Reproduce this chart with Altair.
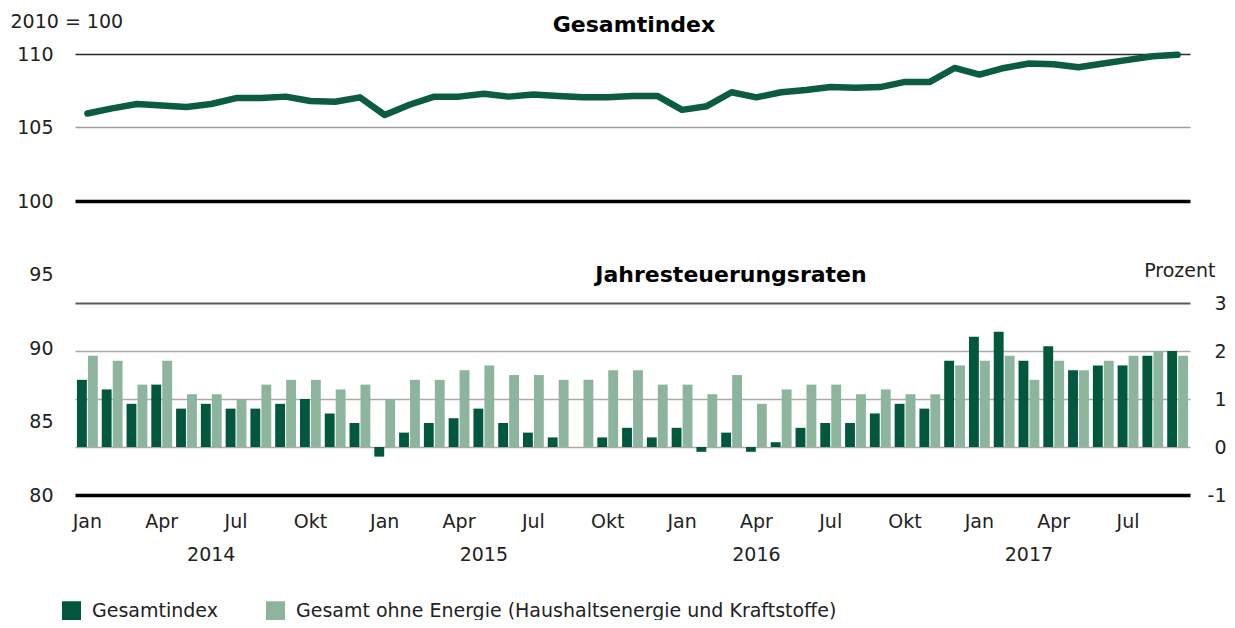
import altair as alt
import pandas as pd

# ---------------- data ----------------
month_names = ["Jan", "Feb", "Mär", "Apr", "Mai", "Jun", "Jul", "Aug", "Sep", "Okt", "Nov", "Dez"]
years = ["2014", "2015", "2016", "2017"]
months = [f"{m} {y}" for y in years for m in month_names][:45]

tick_month_names = ["Jan", "Apr", "Jul", "Okt"]

# Gesamtindex level (2010 = 100)
index_level = [
    105.95, 106.3, 106.6, 106.5, 106.4, 106.6, 107.0, 107.0, 107.1, 106.8, 106.75, 107.05,
    105.85, 106.55, 107.1, 107.1, 107.3, 107.1, 107.25, 107.15, 107.05, 107.05, 107.15, 107.15,
    106.2, 106.45, 107.4, 107.05, 107.4, 107.55, 107.75, 107.7, 107.75, 108.1, 108.1, 109.05,
    108.6, 109.05, 109.35, 109.3, 109.1, 109.35, 109.6, 109.85, 109.95,
]

# Jahresteuerungsraten (Prozent)
rate_total = [
    1.4, 1.2, 0.9, 1.3, 0.8, 0.9, 0.8, 0.8, 0.9, 1.0, 0.7, 0.5,
    -0.2, 0.3, 0.5, 0.6, 0.8, 0.5, 0.3, 0.2, 0.0, 0.2, 0.4, 0.2,
    0.4, -0.1, 0.3, -0.1, 0.1, 0.4, 0.5, 0.5, 0.7, 0.9, 0.8, 1.8,
    2.3, 2.4, 1.8, 2.1, 1.6, 1.7, 1.7, 1.9, 2.0,
]
rate_core = [
    1.9, 1.8, 1.3, 1.8, 1.1, 1.1, 1.0, 1.3, 1.4, 1.4, 1.2, 1.3,
    1.0, 1.4, 1.4, 1.6, 1.7, 1.5, 1.5, 1.4, 1.4, 1.6, 1.6, 1.3,
    1.3, 1.1, 1.5, 0.9, 1.2, 1.3, 1.3, 1.1, 1.2, 1.1, 1.1, 1.7,
    1.8, 1.9, 1.4, 1.8, 1.6, 1.8, 1.9, 2.0, 1.9,
]

series_names = ["Gesamtindex", "Gesamt ohne Energie (Haushaltsenergie und Kraftstoffe)"]
series_colors = ["#02583d", "#8db59d"]

year_labels = ["2014", "2015", "2016", "2017"]
year_label_month = ["Jun 2014", "Mai 2015", "Apr 2016", "Mär 2017"]

panel_titles = ["Gesamtindex", "Jahresteuerungsraten"]
left_axis_title = "2010 = 100"
right_axis_title = "Prozent"

left_ticks = [80, 85, 90, 95, 100, 105, 110]
right_ticks = [-1, 0, 1, 2, 3]

# ---------------- tables ----------------
line_df = pd.DataFrame({"month": months, "index": index_level})
bar_df = pd.DataFrame({
    "month": months * 2,
    "series": [series_names[0]] * len(months) + [series_names[1]] * len(months),
    "value": rate_total + rate_core,
})
year_df = pd.DataFrame({"month": year_label_month, "label": year_labels})
title1_df = pd.DataFrame({"label": [panel_titles[0]]})
title2_df = pd.DataFrame({"label": [panel_titles[1]]})

FONT = "DejaVu Sans"
TXT = "#222222"
W, H = 1115, 441

tick_values = [m for m in months if m.split(" ")[0] in tick_month_names]

x_def = alt.X(
    "month:N",
    scale=alt.Scale(domain=months, paddingInner=0.16, paddingOuter=0.08),
    axis=alt.Axis(
        values=tick_values,
        labelExpr="split(datum.value, ' ')[0]",
        title=None, labelAngle=0, ticks=False, tickSize=0, domain=False, grid=False,
        labelFontSize=19, labelColor=TXT, labelFont=FONT, labelPadding=17,
    ),
)

left_axis = alt.Axis(
    orient="left", values=left_ticks, title=left_axis_title,
    titleAngle=0, titleX=-65, titleY=-33, titleAlign="left", titleBaseline="middle",
    titleFontSize=19, titleFontWeight="normal", titleColor=TXT, titleFont=FONT,
    labelFontSize=19, labelColor=TXT, labelFont=FONT, labelPadding=22,
    ticks=False, tickSize=0, domain=False, grid=True,
    gridColor={"condition": [
        {"test": "datum.value == 100 || datum.value == 80", "value": "#000000"},
        {"test": "datum.value == 110", "value": "#2a2a2a"},
    ], "value": "#a0a0a0"},
    gridWidth={"condition": [
        {"test": "datum.value == 100 || datum.value == 80", "value": 3.5},
    ], "value": 1.5},
    gridOpacity={"condition": [
        {"test": "datum.value >= 100 || datum.value == 80", "value": 1},
    ], "value": 0},
)

right_axis = alt.Axis(
    orient="right", values=right_ticks, title=right_axis_title,
    labelExpr="'' + datum.value",
    titleAngle=0, titleX=25, titleY=216, titleAlign="right", titleBaseline="middle",
    titleFontSize=19, titleFontWeight="normal", titleColor=TXT, titleFont=FONT,
    labelFontSize=19, labelColor=TXT, labelFont=FONT, labelPadding=36, labelAlign="right",
    ticks=False, tickSize=0, domain=False, grid=True,
    gridColor={"condition": [
        {"test": "datum.value == 3", "value": "#5a5a5a"},
    ], "value": "#aaaaaa"},
    gridWidth={"condition": [
        {"test": "datum.value == 3", "value": 2},
    ], "value": 1.5},
    gridOpacity={"condition": [
        {"test": "datum.value == -1", "value": 0},
    ], "value": 1},
)

line = alt.Chart(line_df).mark_line(
    color="#0b5c43", strokeWidth=6.5, strokeCap="round", strokeJoin="round"
).encode(
    x=x_def,
    y=alt.Y("index:Q", scale=alt.Scale(domain=[80, 110], nice=False, zero=False), axis=left_axis),
)

bars = alt.Chart(bar_df).mark_bar().encode(
    x=x_def,
    xOffset=alt.XOffset("series:N", sort=series_names, scale=alt.Scale(paddingInner=0.1)),
    y=alt.Y("value:Q", scale=alt.Scale(domain=[-1, 8.19], nice=False), axis=right_axis),
    color=alt.Color(
        "series:N",
        sort=series_names,
        scale=alt.Scale(domain=series_names, range=series_colors),
        legend=alt.Legend(
            title=None, orient="none", legendX=-13, legendY=547, direction="horizontal",
            symbolType="square", symbolSize=361, symbolStrokeWidth=0,
            labelFontSize=19, labelColor=TXT, labelFont=FONT, labelLimit=1000,
            labelOffset=11, columnPadding=48,
        ),
    ),
)

years_text = alt.Chart(year_df).mark_text(
    font=FONT, fontSize=19, color=TXT, align="center", baseline="middle"
).encode(x=x_def, y=alt.value(501), text="label:N")

title1 = alt.Chart(title1_df).mark_text(
    font=FONT, fontSize=22, fontWeight="bold", color="#000000", align="center", baseline="middle"
).encode(x=alt.value(559), y=alt.value(-29), text="label:N")

title2 = alt.Chart(title2_df).mark_text(
    font=FONT, fontSize=22, fontWeight="bold", color="#000000", align="center", baseline="middle"
).encode(x=alt.value(656), y=alt.value(221), text="label:N")

chart = alt.layer(line, bars, years_text, title1, title2).resolve_scale(
    y="independent"
).properties(
    width=W, height=H,
    padding={"left": 67, "top": 46, "right": 37, "bottom": 125},
    autosize=alt.AutoSizeParams(type="none"),
).configure(font=FONT).configure_view(stroke=None)

chart.save("out.html", embed_options={"renderer": "svg", "actions": False})
